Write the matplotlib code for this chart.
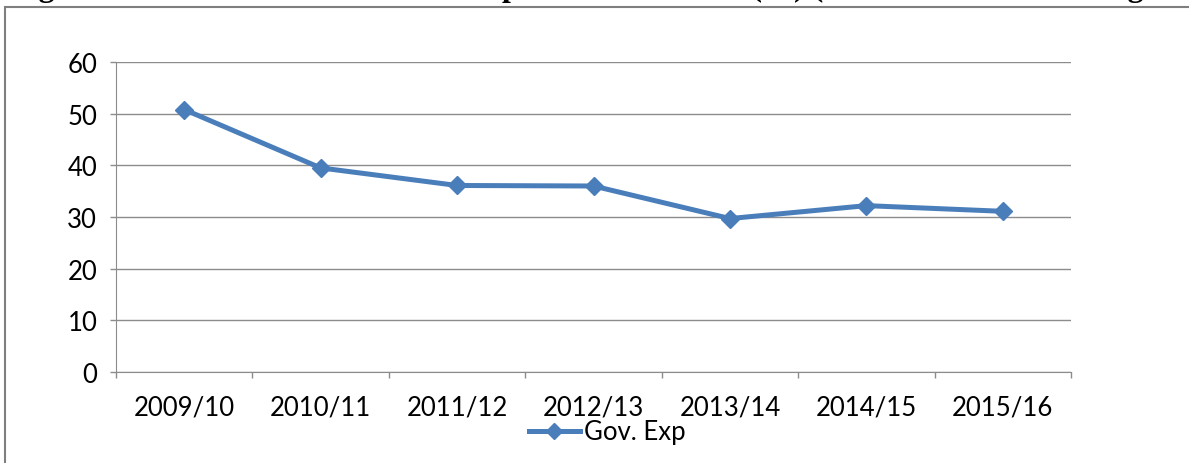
import matplotlib
matplotlib.use("Agg")
import matplotlib.pyplot as plt
from matplotlib.patches import Rectangle

# data
years = ["2009/10", "2010/11", "2011/12", "2012/13", "2013/14", "2014/15", "2015/16"]
gov_exp = [50.8, 39.5, 36.1, 36.0, 29.7, 32.2, 31.1]
title = "Figure 5.1: Ratio of Government Expenditure to GDP (%) (Based on Real GDP Figures)"

BLUE = "#4a7ebb"
GRID = "#8c8c8c"

plt.rcParams["font.family"] = ["Lato", "DejaVu Sans"]

fig = plt.figure(figsize=(11.89, 4.64), dpi=100)
W, H = 1189, 464
ax = fig.add_axes([116 / W, 1 - 373 / H, (1071 - 116) / W, (373 - 63) / H])

x = list(range(len(years)))
ax.plot(x, gov_exp, color=BLUE, lw=3.6, marker="D", ms=9.5, label="Gov. Exp",
        solid_joinstyle="round", clip_on=False)

ax.set_xlim(-0.5, len(years) - 0.5)
ax.set_ylim(0, 60)
ax.set_yticks(range(0, 61, 10))
ax.set_xticks(x)
ax.set_xticklabels(years)
ax.set_xticks([i - 0.5 for i in range(len(years) + 1)], minor=True)
ax.tick_params(axis="x", which="major", length=0, pad=16, labelsize=18.5)
ax.tick_params(axis="x", which="minor", length=4.5, color=GRID, width=1)
ax.tick_params(axis="y", length=4.5, color=GRID, width=1, labelsize=18.5, pad=9)
ax.yaxis.grid(True, color=GRID, lw=1)
ax.set_axisbelow(True)
for s in ["top", "right"]:
    ax.spines[s].set_visible(False)
for s in ["left", "bottom"]:
    ax.spines[s].set_color(GRID)

ax.legend(loc="center", bbox_to_anchor=(607 / W, 1 - 433 / H), bbox_transform=fig.transFigure,
          frameon=False, fontsize=18.5, handlelength=2.0, handletextpad=0.15, borderpad=0,
          markerscale=0.85)

# outer frame (cropped at right and bottom)
fig.patches.append(Rectangle((5 / W, -0.1), 1.2, 1 - 8 / H + 0.1, transform=fig.transFigure,
                             fill=False, edgecolor="#7f7f7f", lw=1.5))
# title cut off at the top, only descenders show
fig.text(10 / W, 1 + 4 / H, title, family="Liberation Serif", weight="bold", fontsize=23,
         va="baseline", ha="left")

fig.savefig("out.png", dpi=100)
